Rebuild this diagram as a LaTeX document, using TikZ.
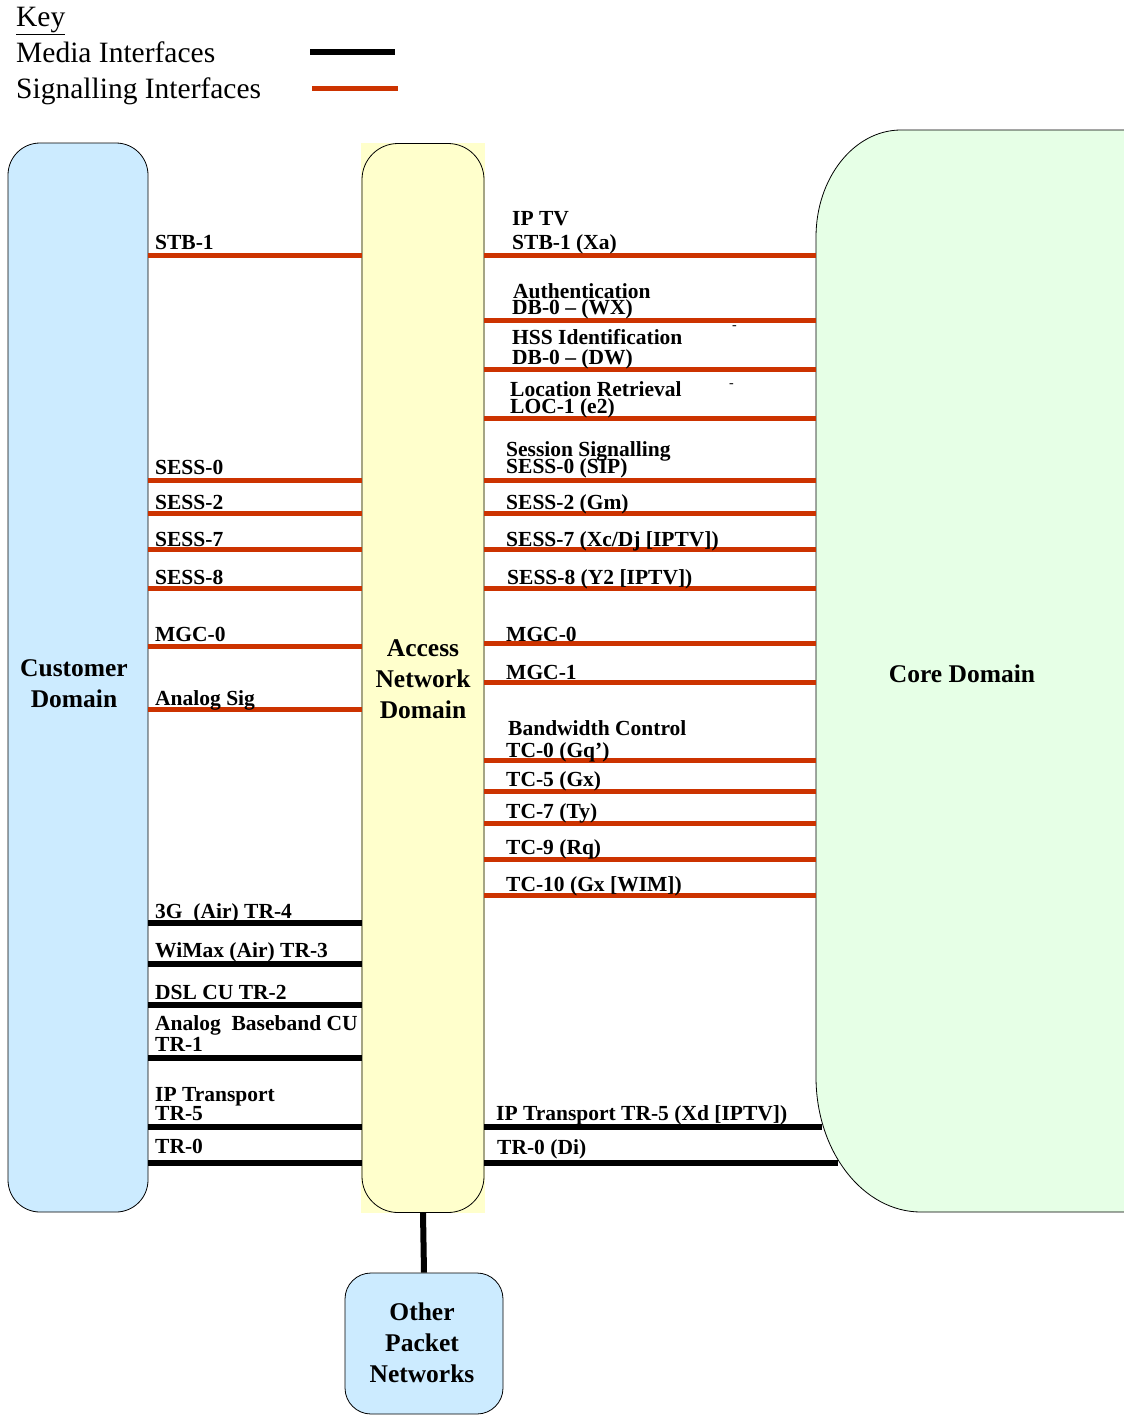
\documentclass[tikz,border=0pt]{standalone}
\usepackage{fontspec}
\setmainfont{Liberation Serif}
\definecolor{sigred}{HTML}{CC3300}
\definecolor{custblue}{HTML}{CCEBFF}
\definecolor{accyellow}{HTML}{FFFFCC}
\definecolor{coregreen}{HTML}{E6FFE6}
\begin{document}
\begin{tikzpicture}[x=1pt,y=-1pt,
  sig/.style={draw=sigred,line width=5pt},
  med/.style={draw=black,line width=6pt},
  lab/.style={anchor=base west,inner sep=0pt,font=\fontsize{21.5}{22}\selectfont\bfseries},
  keytxt/.style={anchor=base west,inner sep=0pt,font=\fontsize{29.5}{30}\selectfont},
  big/.style={align=center,font=\fontsize{25.5}{31}\selectfont\bfseries},
  domain/.style={draw=black,line width=0.8pt,rounded corners=#1},
]
\clip (0,0) rectangle (1124,1416);
\fill[white] (0,0) rectangle (1124,1416);

% Key
\node[keytxt] (key) at (16,26) {\underline{Key}};
\node[keytxt] (kmed) at (16,62) {Media Interfaces};
\node[keytxt] (ksig) at (16,98) {Signalling Interfaces};
\coordinate (km1) at (310,52); \coordinate (km2) at (395,52);
\coordinate (ks1) at (312,88); \coordinate (ks2) at (398,88);
\draw[med] (km1) -- (km2);
\draw[sig] (ks1) -- (ks2);

% Core domain
\fill[coregreen,draw=black,line width=0.8pt]
  (1140,130) -- (901,130) arc[start angle=270,end angle=180,x radius=85,y radius=107]
  -- (816,1077) arc[start angle=180,end angle=90,x radius=105,y radius=135]
  -- (1140,1212);
\node[big] (core) at (962,674) {Core Domain};
\coordinate (corel) at (816,0);

% Customer domain
\node[domain=32,fill=custblue,minimum width=140pt,minimum height=1069pt,inner sep=0pt] (cust) at (78,677.5) {};
\node[big] (custlab) at (74,684) {Customer\\Domain};

% Access network domain
\fill[accyellow] (361,143) rectangle (485,1213);
\node[domain=36,minimum width=122pt,minimum height=1069pt,inner sep=0pt] (acc) at (423,678) {};
\node[big] (acclab) at (423,679) {Access\\Network\\Domain};

% Other packet networks
\node[domain=26,fill=custblue,minimum width=158pt,minimum height=141pt,inner sep=0pt] (opn) at (424,1343.5) {};
\node[big] (opnlab) at (422,1343) {Other\\Packet\\Networks};
\draw[line width=6pt] (acc.south) -- (opn.north);

% Left interfaces
\foreach \y in {255,480,513,549,588,646,709}
  \draw[sig] (cust.east |- 0,\y) -- (acc.west |- 0,\y);
\foreach \y in {923,964,1005,1058,1127,1163}
  \draw[med] (cust.east |- 0,\y) -- (acc.west |- 0,\y);

\node[lab] (L1) at (155,249) {STB-1};
\node[lab] (L2) at (155,474) {SESS-0};
\node[lab] (L3) at (155,509) {SESS-2};
\node[lab] (L4) at (155,546) {SESS-7};
\node[lab] (L5) at (155,584) {SESS-8};
\node[lab] (L6) at (155,641) {MGC-0};
\node[lab] (L7) at (155,705) {Analog Sig};
\node[lab] (L8) at (155,918) {3G\ \ (Air) TR-4};
\node[lab] (L9) at (155,957) {WiMax (Air) TR-3};
\node[lab] (L10) at (155,999) {DSL CU TR-2};
\node[lab] (L11) at (155,1030) {Analog\ \ Baseband CU};
\node[lab] (L12) at (155,1051) {TR-1};
\node[lab] (L13) at (155,1101) {IP Transport};
\node[lab] (L14) at (155,1120) {TR-5};
\node[lab] (L15) at (155,1153) {TR-0};

% Right interfaces
\foreach \y in {255,320,369,418,480,513,549,588,643,682,760,791,823,859,895}
  \draw[sig] (acc.east |- 0,\y) -- (corel |- 0,\y);
\coordinate (cb1) at (822,1127);
\coordinate (cb2) at (838,1163);
\draw[med] (acc.east |- cb1) -- (cb1);
\draw[med] (acc.east |- cb2) -- (cb2);

\node[lab] (R1) at (512,225) {IP TV};
\node[lab] (R2) at (512,249) {STB-1 (Xa)};
\node[lab] (R3) at (513,298) {Authentication};
\node[lab] (R4) at (512,314) {DB-0 -- (WX)};
\node[lab] (R5) at (512,344) {HSS Identification};
\node[lab] (R6) at (512,364) {DB-0 -- (DW)};
\node[lab] (R7) at (510,396) {Location Retrieval};
\node[lab] (R8) at (510,413) {LOC-1 (e2)};
\node[lab] (R9) at (506,456) {Session Signalling};
\node[lab] (R10) at (506,473) {SESS-0 (SIP)};
\node[lab] (R11) at (506,509) {SESS-2 (Gm)};
\node[lab] (R12) at (506,546) {SESS-7 (Xc/Dj [IPTV])};
\node[lab] (R13) at (507,584) {SESS-8 (Y2 [IPTV])};
\node[lab] (R14) at (506,641) {MGC-0};
\node[lab] (R15) at (506,679) {MGC-1};
\node[lab] (R16) at (508,735) {Bandwidth Control};
\node[lab] (R17) at (506,757) {TC-0 (Gq’)};
\node[lab] (R18) at (506,786) {TC-5 (Gx)};
\node[lab] (R19) at (506,818) {TC-7 (Ty)};
\node[lab] (R20) at (506,854) {TC-9 (Rq)};
\node[lab] (R21) at (506,891) {TC-10 (Gx [WIM])};
\node[lab] (R22) at (496,1120) {IP Transport TR-5 (Xd [IPTV])};
\node[lab] (R23) at (497,1154) {TR-0 (Di)};

% stray dashes
\node[lab,font=\fontsize{14}{14}\selectfont] (d1) at (732,329) {-};
\node[lab,font=\fontsize{14}{14}\selectfont] (d2) at (729,387) {-};
\end{tikzpicture}
\end{document}
